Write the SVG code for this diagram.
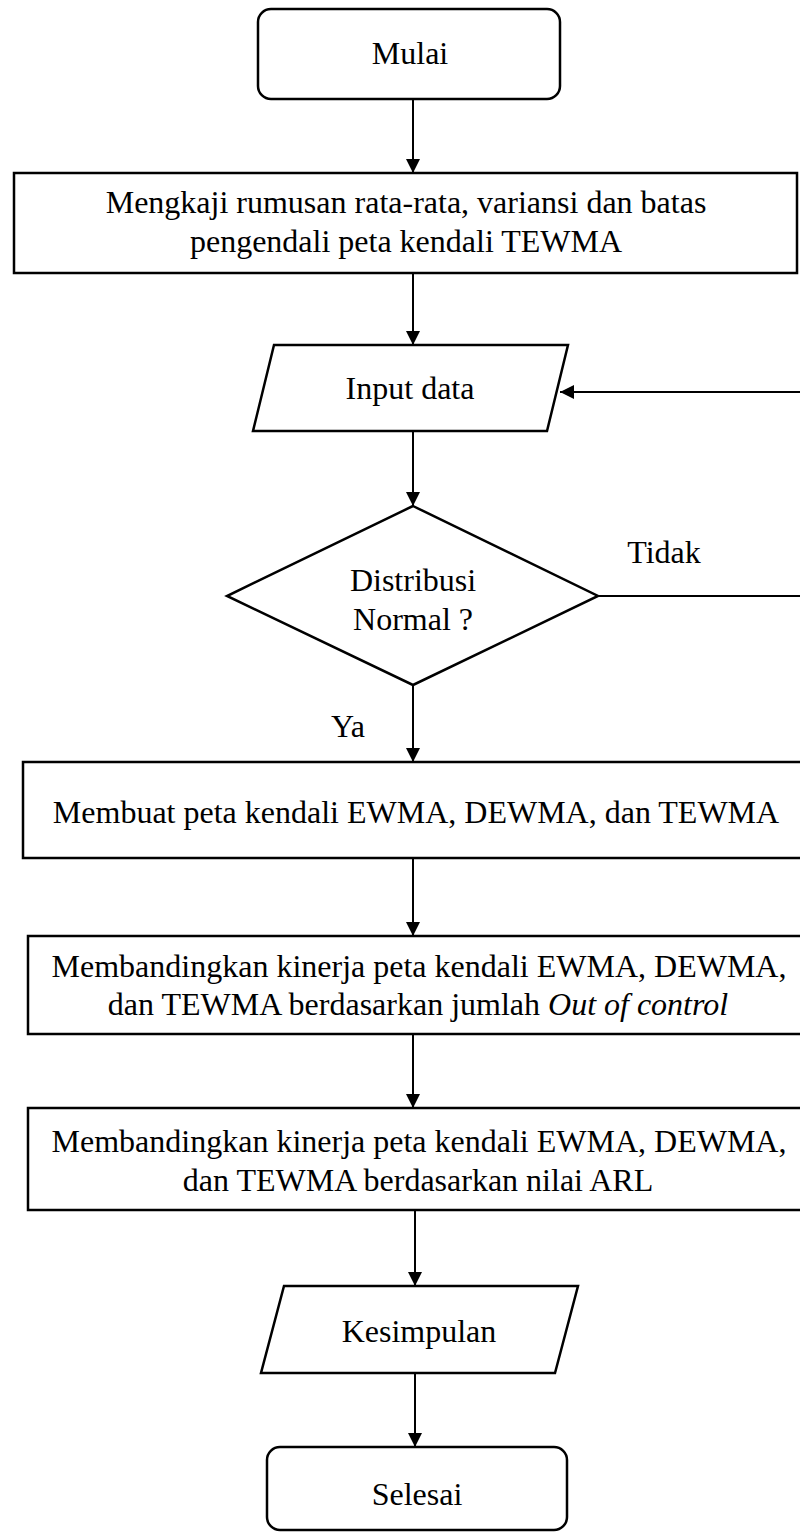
<svg xmlns="http://www.w3.org/2000/svg" width="800" height="1533" viewBox="0 0 800 1533">
<style>
.shape{fill:#fff;stroke:#000;stroke-width:2.5}
.conn{fill:none;stroke:#000;stroke-width:2}
text{font-family:"Liberation Serif","Times New Roman",serif;font-size:32px;fill:#000;text-anchor:middle}
.it{font-style:italic}
</style>
<defs>
<marker id="arr" viewBox="0 0 14 14" refX="14" refY="7" markerWidth="14" markerHeight="14" markerUnits="userSpaceOnUse" orient="auto">
<path d="M0,0 L14,7 L0,14 Z" fill="#000"/>
</marker>
</defs>
<rect width="800" height="1533" fill="#fff"/>
<g id="connectors">
<line class="conn" x1="413" y1="99" x2="413" y2="173" marker-end="url(#arr)"/>
<line class="conn" x1="413" y1="273" x2="413" y2="345" marker-end="url(#arr)"/>
<line class="conn" x1="413" y1="431" x2="413" y2="506" marker-end="url(#arr)"/>
<line class="conn" x1="413" y1="685" x2="413" y2="762" marker-end="url(#arr)"/>
<line class="conn" x1="413" y1="858" x2="413" y2="936" marker-end="url(#arr)"/>
<line class="conn" x1="413" y1="1034" x2="413" y2="1108" marker-end="url(#arr)"/>
<line class="conn" x1="415" y1="1210" x2="415" y2="1286" marker-end="url(#arr)"/>
<line class="conn" x1="415" y1="1373" x2="415" y2="1447" marker-end="url(#arr)"/>
<path class="conn" d="M598,596 H801 V392 H560" marker-end="url(#arr)"/>
<text x="664" y="563">Tidak</text>
<text x="348" y="737">Ya</text>
</g>
<g id="mulai">
<rect class="shape" x="258" y="9" width="302" height="90" rx="13" ry="13"/>
<text x="410" y="64">Mulai</text>
</g>
<g id="mengkaji">
<rect class="shape" x="14" y="173" width="783" height="100"/>
<text x="406" y="213">Mengkaji rumusan rata-rata, variansi dan batas</text>
<text x="406" y="252">pengendali peta kendali TEWMA</text>
</g>
<g id="input">
<polygon class="shape" points="274,345 568,345 547,431 253,431"/>
<text x="410" y="399">Input data</text>
</g>
<g id="distribusi">
<polygon class="shape" points="413,506 598,596 413,685 227,596"/>
<text x="413" y="591">Distribusi</text>
<text x="413" y="630">Normal ?</text>
</g>
<g id="membuat">
<rect class="shape" x="23" y="762" width="785" height="96"/>
<text x="416" y="823">Membuat peta kendali EWMA, DEWMA, dan TEWMA</text>
</g>
<g id="banding-ooc">
<rect class="shape" x="28" y="936" width="780" height="98"/>
<text x="419" y="977">Membandingkan kinerja peta kendali EWMA, DEWMA,</text>
<text x="418" y="1015">dan TEWMA berdasarkan jumlah <tspan class="it">Out of control</tspan></text>
</g>
<g id="banding-arl">
<rect class="shape" x="28" y="1108" width="780" height="102"/>
<text x="419" y="1152">Membandingkan kinerja peta kendali EWMA, DEWMA,</text>
<text x="418" y="1191">dan TEWMA berdasarkan nilai ARL</text>
</g>
<g id="kesimpulan">
<polygon class="shape" points="284,1286 578,1286 555,1373 261,1373"/>
<text x="419" y="1342">Kesimpulan</text>
</g>
<g id="selesai">
<rect class="shape" x="267" y="1447" width="300" height="83" rx="13" ry="13"/>
<text x="417" y="1505">Selesai</text>
</g>
</svg>
